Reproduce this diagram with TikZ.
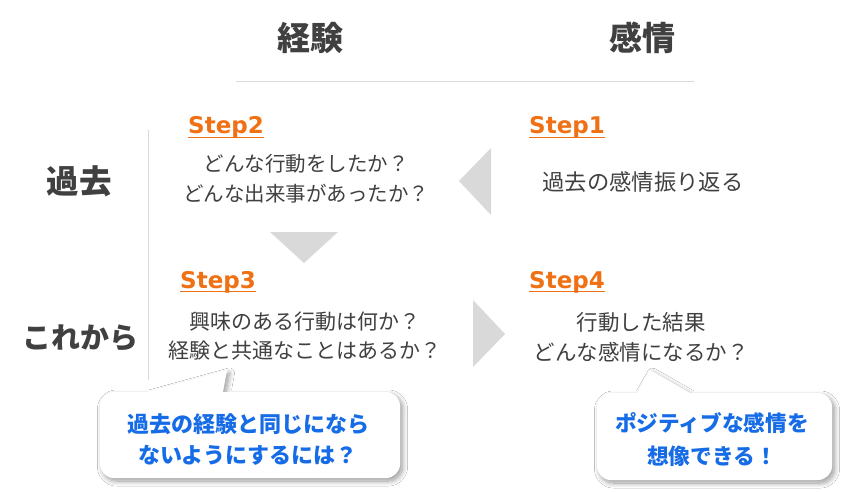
\documentclass[tikz,border=0pt]{standalone}
\usepackage{fontspec}
\usetikzlibrary{shadows.blur}
\newfontfamily\jp{Noto Sans CJK JP}
\newfontfamily\stepfont{DejaVu Sans}
\definecolor{txt}{RGB}{64,64,64}
\definecolor{stepor}{RGB}{240,112,20}
\definecolor{callblue}{RGB}{22,108,230}
\definecolor{tri}{RGB}{217,217,217}
\definecolor{rulec}{RGB}{217,217,217}
\tikzset{
  head/.style={font=\jp\bfseries\fontsize{33}{36}\selectfont, text=txt, inner sep=0pt},
  body/.style={font=\jp\fontsize{20.5}{30}\selectfont, text=txt, inner sep=0pt, align=center},
  steplbl/.style={font=\stepfont\bfseries\fontsize{23}{26}\selectfont, text=stepor, inner sep=0pt, anchor=base west},
  stepline/.style={draw=stepor, line width=1.4pt},
  calltxt/.style={font=\jp\bfseries\fontsize{22}{31}\selectfont, text=callblue, inner sep=0pt, align=center},
  arrowtri/.style={fill=tri, draw=none},
  callbox/.style={fill=white, draw=none, blur shadow={shadow xshift=2.5pt, shadow yshift=-3pt, shadow blur radius=5pt, shadow blur steps=12, shadow opacity=40}},
}
\begin{document}
\begin{tikzpicture}[x=1pt,y=-1pt]
\useasboundingbox[fill=white] (0,0) rectangle (848,492);

% column headings
\node[head] (hexp) at (310,38) {経験};
\node[head] (hemo) at (642,38) {感情};
\coordinate (hl1) at (236,82);
\coordinate (hl2) at (694,82);
\draw[rulec, line width=1pt] (hl1) -- (hl2);

% row headings
\node[head, font=\jp\bfseries\fontsize{32.5}{36}\selectfont] (rpast) at (79,181) {過去};
\node[head, font=\jp\bfseries\fontsize{29}{34}\selectfont] (rfut) at (80,338) {これから};
\coordinate (vl1) at (148,130);
\coordinate (vl2) at (148,380);
\draw[rulec, line width=1pt] (vl1) -- (vl2);

% Step 2
\node[steplbl] (s2) at (188,134) {Step2};
\draw[stepline] ([yshift=-3.5pt]s2.base west) -- ([yshift=-3.5pt]s2.base east);
\node[body] (t2) at (306,179) {どんな行動をしたか？\\どんな出来事があったか？};

% Step 1
\node[steplbl] (s1) at (529,134) {Step1};
\draw[stepline] ([yshift=-3.5pt]s1.base west) -- ([yshift=-3.5pt]s1.base east);
\node[body, font=\jp\fontsize{22.3}{30}\selectfont] (t1) at (643,182) {過去の感情振り返る};

% Step 3
\node[steplbl] (s3) at (180,288) {Step3};
\draw[stepline] ([yshift=-3.5pt]s3.base west) -- ([yshift=-3.5pt]s3.base east);
\node[body, font=\jp\fontsize{21}{29}\selectfont] (t3) at (305,336) {興味のある行動は何か？\\経験と共通なことはあるか？};

% Step 4
\node[steplbl] (s4) at (529,288) {Step4};
\draw[stepline] ([yshift=-3.5pt]s4.base west) -- ([yshift=-3.5pt]s4.base east);
\node[body, font=\jp\fontsize{21.5}{30}\selectfont] (t4) at (641,337) {行動した結果\\どんな感情になるか？};

% flow triangles
\fill[arrowtri] (459,181) -- (491,148) -- (491,215) -- cycle;
\fill[arrowtri] (270,232) -- (338,232) -- (304,263) -- cycle;
\fill[arrowtri] (473,300) -- (505,334) -- (473,367) -- cycle;

% callout 1 (box with tail, one outline)
\fill[callbox] (114,392) -- (147,392) -- (227,370) -- (223,392) -- (386,392)
  arc[start angle=-90, end angle=0, radius=14] -- (400,464)
  arc[start angle=0, end angle=90, radius=14] -- (114,478)
  arc[start angle=90, end angle=180, radius=14] -- (100,406)
  arc[start angle=180, end angle=270, radius=14] -- cycle;
\node[calltxt] (c1) at (248,440) {過去の経験と同じになら\\ないようにするには？};

% callout 2
\fill[callbox] (611,393) -- (637,393) -- (650,370) -- (690,393) -- (818,393)
  arc[start angle=-90, end angle=0, radius=14] -- (832,466)
  arc[start angle=0, end angle=90, radius=14] -- (611,480)
  arc[start angle=90, end angle=180, radius=14] -- (597,407)
  arc[start angle=180, end angle=270, radius=14] -- cycle;
\node[calltxt, font=\jp\bfseries\fontsize{21.7}{33}\selectfont] (c2) at (712,440) {ポジティブな感情を\\想像できる！};
\end{tikzpicture}
\end{document}
